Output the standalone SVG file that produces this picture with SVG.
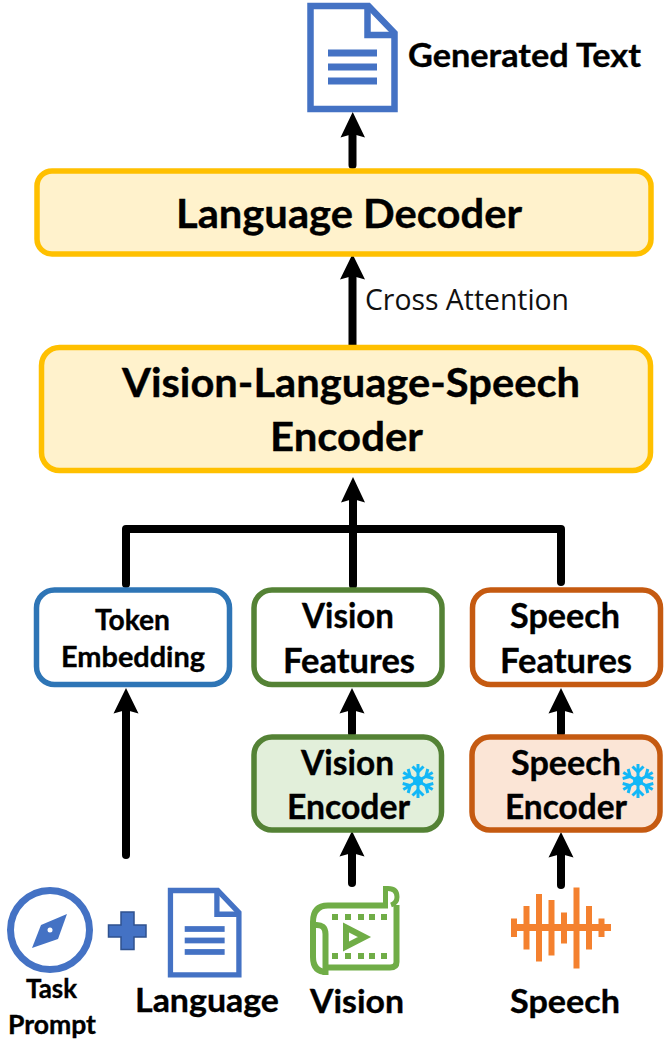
<svg xmlns="http://www.w3.org/2000/svg" width="664" height="1040" viewBox="0 0 664 1040">
<style>
.t{font-family:"Lato","Open Sans","Liberation Sans",sans-serif;font-weight:700;fill:#000;stroke:#000;stroke-width:.35;}
.r{font-family:"Open Sans","Lato","Liberation Sans",sans-serif;font-weight:400;fill:#111;}
.y{fill:#FFF2CC;stroke:#FFC000;stroke-width:5.5;}
.w{fill:#fff;stroke-width:5.5;}
.c{fill:none;stroke:#000;stroke-width:8;stroke-linecap:round;stroke-linejoin:round;}
.bl{fill:#4472C4;}
.sf{stroke:#12B7F7;stroke-width:3;fill:none;stroke-linecap:butt;}
</style>
<defs>
<symbol id="doc" viewBox="0 0 90 110" width="90" height="110" overflow="visible">
<path d="M3 3H61L87 30V106H3Z" fill="#fff" stroke="#4472C4" stroke-width="6.5"/>
<path d="M60 3V32H87" fill="none" stroke="#4472C4" stroke-width="6.5"/>
<rect class="bl" x="20.500" y="46.500" width="49" height="7"/><rect class="bl" x="20.500" y="60.500" width="49" height="7"/><rect class="bl" x="20.500" y="74.500" width="49" height="7"/>
</symbol>
<g id="flake">
<path class="sf" d="M0-17V17M-14.700-8.500L14.700 8.500M-14.700 8.500L14.700-8.500"/>
<circle r="5" fill="#12B7F7"/>
<g id="br"><path class="sf" d="M-5.500-14.500L0-9L5.500-14.500"/></g>
<use href="#br" transform="rotate(60)"/><use href="#br" transform="rotate(120)"/><use href="#br" transform="rotate(180)"/><use href="#br" transform="rotate(240)"/><use href="#br" transform="rotate(300)"/>
</g>
</defs>

<g id="connectors">
<path class="c" d="M352.500 165V133"/><path d="M352.700 112L365 137.500L352.700 134L340.500 137.500Z"/>
<path class="c" d="M352.500 347V276"/><path d="M352.500 254L365 279.500L352.500 276L340 279.500Z"/>
<path class="c" d="M353 585V499"/><path d="M353 477L365 502.500L353 499L341 502.500Z"/>
<path class="c" d="M126 584V529H561V582"/>
<path class="c" d="M126 855V710"/><path d="M126 688L138.500 713.500L126 710L113.500 713.500Z"/>
<path class="c" d="M352 733V710"/><path d="M352 688L364.500 713.500L352 710L339.500 713.500Z"/>
<path class="c" d="M561 733V710"/><path d="M561 688L573.500 713.500L561 710L548.500 713.500Z"/>
<path class="c" d="M352 883V853"/><path d="M352 831L364.500 856.500L352 853L339.500 856.500Z"/>
<path class="c" d="M561 885V854"/><path d="M561 832L573.500 857.500L561 854L548.500 857.500Z"/>
</g>

<g id="generated-text">
<use href="#doc" x="307.500" y="3"/>
<text class="t" x="408" y="67" font-size="32" textLength="233" lengthAdjust="spacingAndGlyphs">Generated Text</text>
</g>
<g id="language-decoder">
<rect class="y" x="37" y="171" width="614" height="83" rx="15"/>
<text class="t" x="176" y="228" font-size="40" textLength="346" lengthAdjust="spacingAndGlyphs">Language Decoder</text>
</g>
<g id="cross-attention"><text class="r" x="365" y="310" font-size="29" textLength="204" lengthAdjust="spacingAndGlyphs">Cross Attention</text></g>
<g id="vls-encoder">
<rect class="y" x="41.500" y="347.500" width="609" height="123" rx="18"/>
<text class="t" x="122" y="397" font-size="40" textLength="458" lengthAdjust="spacingAndGlyphs">Vision-Language-Speech</text>
<text class="t" x="270" y="451" font-size="40" textLength="153" lengthAdjust="spacingAndGlyphs">Encoder</text>
</g>
<g id="token-embedding">
<rect class="w" x="36.500" y="590" width="193" height="94.500" rx="18" stroke="#2E75B6"/>
<text class="t" x="95" y="630" font-size="28" textLength="75" lengthAdjust="spacingAndGlyphs">Token</text>
<text class="t" x="61" y="667" font-size="28" textLength="144" lengthAdjust="spacingAndGlyphs">Embedding</text>
</g>
<g id="vision-features">
<rect class="w" x="254" y="590" width="188" height="94.500" rx="18" stroke="#548235"/>
<text class="t" x="302" y="628" font-size="35" textLength="92" lengthAdjust="spacingAndGlyphs">Vision</text>
<text class="t" x="283" y="673" font-size="35" textLength="132" lengthAdjust="spacingAndGlyphs">Features</text>
</g>
<g id="speech-features">
<rect class="w" x="472.500" y="590" width="188" height="94.500" rx="18" stroke="#C55A11"/>
<text class="t" x="510" y="628" font-size="35" textLength="110" lengthAdjust="spacingAndGlyphs">Speech</text>
<text class="t" x="500" y="673" font-size="35" textLength="132" lengthAdjust="spacingAndGlyphs">Features</text>
</g>
<g id="vision-encoder">
<rect x="254" y="737" width="187.500" height="93" rx="18" fill="#E2EFDA" stroke="#548235" stroke-width="5.500"/>
<text class="t" x="301" y="775" font-size="35" textLength="93" lengthAdjust="spacingAndGlyphs">Vision</text>
<text class="t" x="287" y="819" font-size="35" textLength="123" lengthAdjust="spacingAndGlyphs">Encoder</text>
<use href="#flake" x="418" y="781"/>
</g>
<g id="speech-encoder">
<rect x="472" y="737" width="188" height="93" rx="18" fill="#FBE5D6" stroke="#C55A11" stroke-width="5.500"/>
<text class="t" x="511" y="775" font-size="35" textLength="110" lengthAdjust="spacingAndGlyphs">Speech</text>
<text class="t" x="505" y="819" font-size="35" textLength="122" lengthAdjust="spacingAndGlyphs">Encoder</text>
<use href="#flake" x="638" y="781"/>
</g>
<g id="task-prompt">
<circle cx="50" cy="930" r="39.500" fill="#fff" stroke="#4472C4" stroke-width="7"/>
<path class="bl" d="M67 914L58 939L32 948L41 925Z"/>
<circle cx="50" cy="930" r="2.500" fill="#fff"/>
<text class="t" x="26" y="998" font-size="26" textLength="51" lengthAdjust="spacingAndGlyphs">Task</text>
<text class="t" x="8" y="1034" font-size="26" textLength="88" lengthAdjust="spacingAndGlyphs">Prompt</text>
</g>
<g id="plus"><path d="M121 912H134V925H146V937H134V949.500H121V937H108.500V925H121Z" fill="#4472C4" stroke="#2F528F" stroke-width="1.500"/></g>
<g id="language">
<use href="#doc" transform="translate(168 888) scale(.815 .82)"/>
<text class="t" x="135" y="1012" font-size="33" textLength="144" lengthAdjust="spacingAndGlyphs">Language</text>
</g>
<g id="vision">
<g fill="none" stroke="#70AD47" stroke-width="6">
<path d="M396.500 905V962Q396.500 967.500 390 967.500H325"/>
<path d="M388 905.500H328Q313 905.500 313 922V957Q313 972 327 972"/>
<path d="M315 925Q325.500 924 325.500 934V975"/>
<path d="M385.500 905V888.500H388Q397 888.500 397 897Q397 903 391 905" stroke-width="5"/>
<path d="M346 927.500L364.500 937L346 946.500Z"/>
</g>
<path fill="#70AD47" d="M332 914h6v6h-6zM345 914h6v6h-6zM358 914h6v6h-6zM369 914h6v6h-6zM381 914h6v6h-6zM332 953h6v6h-6zM345 953h6v6h-6zM358 953h6v6h-6zM369 953h6v6h-6zM381 953h6v6h-6z"/>
<text class="t" x="310" y="1013" font-size="33" textLength="94" lengthAdjust="spacingAndGlyphs">Vision</text>
</g>
<g id="speech">
<path fill="#F4812F" d="M511 924H611V931H511ZM511 918.500h6V937h-6ZM523.500 906h6v43.500h-6ZM536 894h6v67.500h-6ZM548.500 900h6v55.500h-6ZM561 912.500h6v31h-6ZM573.500 887.500h6v81h-6ZM586 906h6v43.500h-6ZM598.500 918.500h6V937h-6Z"/>
<text class="t" x="510" y="1013" font-size="33" textLength="110" lengthAdjust="spacingAndGlyphs">Speech</text>
</g>
</svg>
